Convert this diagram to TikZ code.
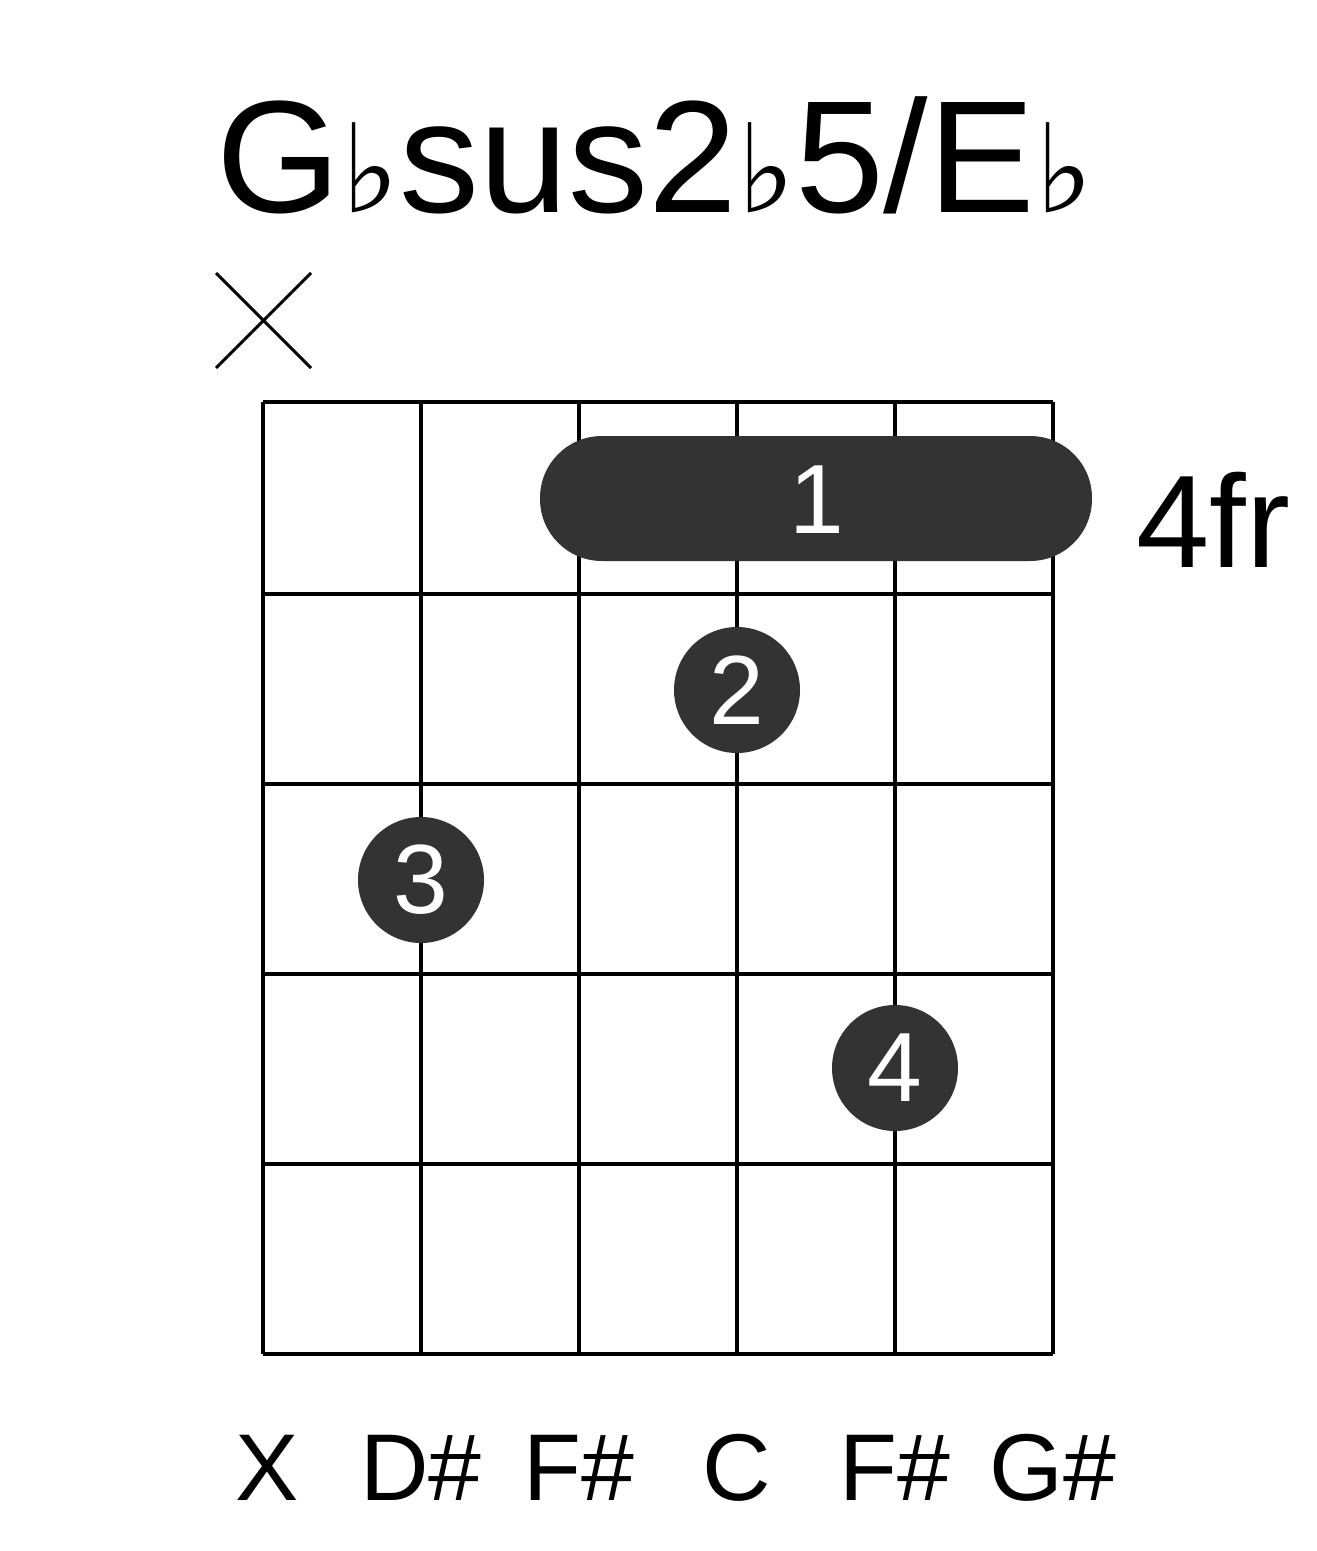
\documentclass[tikz,border=0pt]{standalone}
\usepackage{fontspec}
\setmainfont{Liberation Sans}
\newfontfamily\djvfont{DejaVu Sans}
\newcommand\flt{{\djvfont\fontsize{70}{70}\selectfont ♭}}
\begin{document}
\begin{tikzpicture}[x=0.02cm,y=-0.02cm,
 grid/.style={line width=2.3pt},
 dot/.style={circle,fill=black!80,minimum size=126*0.02cm,inner sep=0pt,text=white,font=\fontsize{56}{60}\selectfont},
 lbl/.style={font=\fontsize{54}{58}\selectfont}]
\useasboundingbox[fill=white] (0,0) rectangle (1317,1551);
\node[font=\fontsize{91}{96}\selectfont] (title) at (655,155) {G\flt sus2\flt 5/E\flt};
\draw[line width=1.8pt] (216,273) -- (311,368) (216,368) -- (311,273);
\foreach \x in {263,421,579,737,895,1053} \draw[grid] (\x,402) -- (\x,1354);
\foreach \y in {402,594,784,974,1164,1354} \draw[grid] (263,\y) -- (1053,\y);
\fill[black!80,rounded corners=62*0.02cm] (540,436) rectangle (1092,561);
\node[text=white,font=\fontsize{56}{60}\selectfont] (b1) at (817,500) {1};
\node[dot] (d2) at (737,690) {2};
\node[dot] (d3) at (421,880) {3};
\node[dot] (d4) at (895,1068) {4};
\node[font=\fontsize{75}{80}\selectfont,anchor=west] (fr) at (1130,520) {4fr};
\foreach \x/\t [count=\i] in {267/X,421/D\#,579/F\#,737/C,895/F\#,1053/G\#}
  \node[lbl] (n\i) at (\x,1468) {\t};
\end{tikzpicture}
\end{document}
